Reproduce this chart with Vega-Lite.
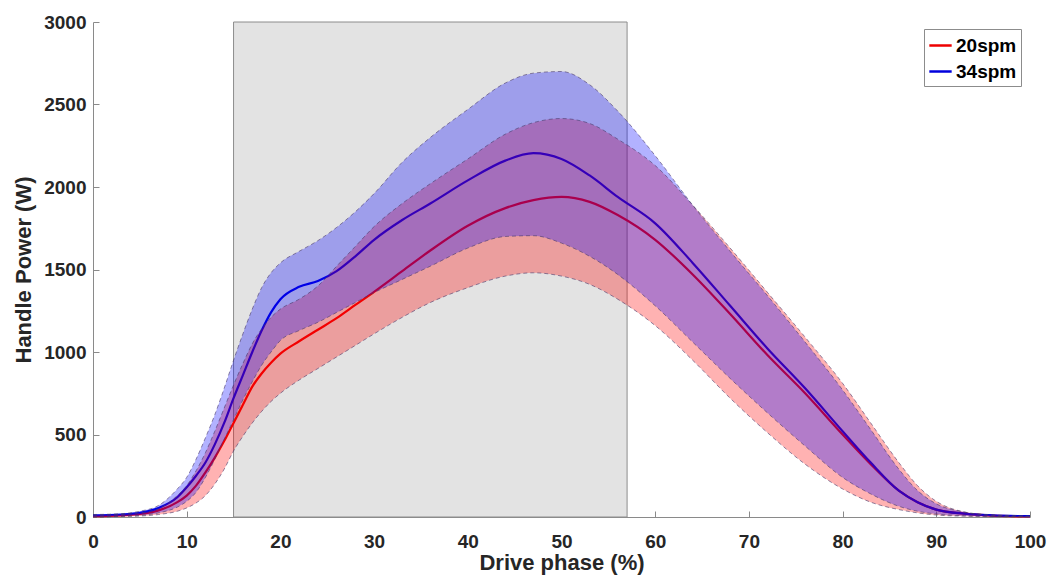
{
  "$schema": "https://vega.github.io/schema/vega-lite/v6.json",
  "width": 937,
  "height": 495,
  "autosize": "none",
  "padding": {"left": 93, "top": 22, "right": 18, "bottom": 61},
  "background": "white",
  "config": {
    "view": {"stroke": null},
    "font": "Liberation Sans",
    "axis": {
      "grid": false,
      "domainColor": "#8a8a8a",
      "tickColor": "#8a8a8a",
      "tickSize": -6,
      "labelFlush": false,
      "labelFont": "Liberation Sans",
      "labelFontWeight": "bold",
      "labelFontSize": 19,
      "labelColor": "#262626",
      "titleFont": "Liberation Sans",
      "titleFontWeight": "bold",
      "titleFontSize": 22,
      "titleColor": "#262626"
    }
  },
  "datasets": {
    "curves": [
      {"x":0,"s":"20spm","m":5,"lo":0,"hi":10},
      {"x":3,"s":"20spm","m":10,"lo":3,"hi":15},
      {"x":5,"s":"20spm","m":18,"lo":6,"hi":25},
      {"x":7,"s":"20spm","m":40,"lo":15,"hi":50},
      {"x":9,"s":"20spm","m":90,"lo":35,"hi":130},
      {"x":10,"s":"20spm","m":130,"lo":55,"hi":190},
      {"x":11,"s":"20spm","m":190,"lo":85,"hi":280},
      {"x":12,"s":"20spm","m":270,"lo":130,"hi":390},
      {"x":13,"s":"20spm","m":360,"lo":200,"hi":520},
      {"x":14,"s":"20spm","m":460,"lo":290,"hi":660},
      {"x":15,"s":"20spm","m":570,"lo":400,"hi":800},
      {"x":16,"s":"20spm","m":680,"lo":490,"hi":930},
      {"x":17,"s":"20spm","m":790,"lo":570,"hi":1050},
      {"x":18,"s":"20spm","m":870,"lo":640,"hi":1140},
      {"x":19,"s":"20spm","m":935,"lo":700,"hi":1210},
      {"x":20,"s":"20spm","m":990,"lo":750,"hi":1260},
      {"x":22,"s":"20spm","m":1065,"lo":830,"hi":1320},
      {"x":24,"s":"20spm","m":1135,"lo":900,"hi":1400},
      {"x":26,"s":"20spm","m":1205,"lo":970,"hi":1520},
      {"x":28,"s":"20spm","m":1285,"lo":1040,"hi":1640},
      {"x":30,"s":"20spm","m":1365,"lo":1110,"hi":1760},
      {"x":33,"s":"20spm","m":1490,"lo":1210,"hi":1900},
      {"x":36,"s":"20spm","m":1615,"lo":1300,"hi":2020},
      {"x":40,"s":"20spm","m":1765,"lo":1390,"hi":2170},
      {"x":44,"s":"20spm","m":1872,"lo":1460,"hi":2320},
      {"x":47,"s":"20spm","m":1920,"lo":1480,"hi":2390},
      {"x":50,"s":"20spm","m":1940,"lo":1460,"hi":2415},
      {"x":53,"s":"20spm","m":1910,"lo":1410,"hi":2385},
      {"x":56,"s":"20spm","m":1830,"lo":1320,"hi":2290},
      {"x":60,"s":"20spm","m":1680,"lo":1160,"hi":2130},
      {"x":64,"s":"20spm","m":1470,"lo":950,"hi":1890},
      {"x":68,"s":"20spm","m":1230,"lo":720,"hi":1630},
      {"x":72,"s":"20spm","m":980,"lo":510,"hi":1360},
      {"x":76,"s":"20spm","m":750,"lo":320,"hi":1090},
      {"x":80,"s":"20spm","m":500,"lo":170,"hi":810},
      {"x":83,"s":"20spm","m":320,"lo":90,"hi":570},
      {"x":86,"s":"20spm","m":160,"lo":45,"hi":330},
      {"x":88,"s":"20spm","m":90,"lo":25,"hi":190},
      {"x":90,"s":"20spm","m":45,"lo":12,"hi":95},
      {"x":93,"s":"20spm","m":20,"lo":5,"hi":30},
      {"x":96,"s":"20spm","m":8,"lo":2,"hi":10},
      {"x":100,"s":"20spm","m":3,"lo":1,"hi":5},
      {"x":0,"s":"34spm","m":10,"lo":0,"hi":15},
      {"x":3,"s":"34spm","m":15,"lo":5,"hi":20},
      {"x":5,"s":"34spm","m":25,"lo":10,"hi":35},
      {"x":7,"s":"34spm","m":55,"lo":25,"hi":70},
      {"x":9,"s":"34spm","m":120,"lo":60,"hi":170},
      {"x":10,"s":"34spm","m":180,"lo":95,"hi":240},
      {"x":11,"s":"34spm","m":250,"lo":150,"hi":350},
      {"x":12,"s":"34spm","m":330,"lo":240,"hi":480},
      {"x":13,"s":"34spm","m":440,"lo":350,"hi":620},
      {"x":14,"s":"34spm","m":570,"lo":470,"hi":780},
      {"x":15,"s":"34spm","m":720,"lo":590,"hi":950},
      {"x":16,"s":"34spm","m":860,"lo":710,"hi":1110},
      {"x":17,"s":"34spm","m":1000,"lo":820,"hi":1260},
      {"x":18,"s":"34spm","m":1130,"lo":920,"hi":1390},
      {"x":19,"s":"34spm","m":1240,"lo":1000,"hi":1480},
      {"x":20,"s":"34spm","m":1320,"lo":1070,"hi":1540},
      {"x":22,"s":"34spm","m":1395,"lo":1130,"hi":1610},
      {"x":24,"s":"34spm","m":1430,"lo":1180,"hi":1675},
      {"x":26,"s":"34spm","m":1490,"lo":1240,"hi":1755},
      {"x":28,"s":"34spm","m":1580,"lo":1300,"hi":1850},
      {"x":30,"s":"34spm","m":1680,"lo":1360,"hi":1960},
      {"x":33,"s":"34spm","m":1800,"lo":1440,"hi":2150},
      {"x":36,"s":"34spm","m":1900,"lo":1520,"hi":2300},
      {"x":40,"s":"34spm","m":2040,"lo":1630,"hi":2470},
      {"x":44,"s":"34spm","m":2160,"lo":1700,"hi":2630},
      {"x":47,"s":"34spm","m":2205,"lo":1705,"hi":2690},
      {"x":50,"s":"34spm","m":2170,"lo":1660,"hi":2700},
      {"x":53,"s":"34spm","m":2070,"lo":1580,"hi":2620},
      {"x":56,"s":"34spm","m":1940,"lo":1470,"hi":2460},
      {"x":60,"s":"34spm","m":1780,"lo":1280,"hi":2190},
      {"x":64,"s":"34spm","m":1540,"lo":1060,"hi":1890},
      {"x":68,"s":"34spm","m":1280,"lo":840,"hi":1610},
      {"x":72,"s":"34spm","m":1020,"lo":630,"hi":1340},
      {"x":76,"s":"34spm","m":780,"lo":430,"hi":1060},
      {"x":80,"s":"34spm","m":520,"lo":240,"hi":770},
      {"x":83,"s":"34spm","m":330,"lo":140,"hi":530},
      {"x":86,"s":"34spm","m":160,"lo":65,"hi":290},
      {"x":88,"s":"34spm","m":90,"lo":35,"hi":160},
      {"x":90,"s":"34spm","m":45,"lo":18,"hi":80},
      {"x":93,"s":"34spm","m":20,"lo":8,"hi":30},
      {"x":96,"s":"34spm","m":10,"lo":4,"hi":12},
      {"x":100,"s":"34spm","m":5,"lo":2,"hi":5}
    ],
    "region": [{"x1": 15, "x2": 57, "y1": 0, "y2": 3000}]
  },
  "layer": [
    {
      "data": {"name": "region"},
      "mark": {"type": "rect", "fill": "#e3e3e3", "stroke": "#8c8c8c", "strokeWidth": 1},
      "encoding": {
        "x": {"field": "x1", "type": "quantitative", "scale": {"domain": [0, 100], "nice": false}, "axis": {"values": [0,10,20,30,40,50,60,70,80,90,100], "format": "d", "title": "Drive phase (%)", "labelPadding": 21, "titlePadding": 1}},
        "x2": {"field": "x2"},
        "y": {"field": "y1", "type": "quantitative", "scale": {"domain": [0, 3000], "nice": false}, "axis": {"values": [0,500,1000,1500,2000,2500,3000], "format": "d", "title": "Handle Power (W)", "labelPadding": 13, "titlePadding": 8}},
        "y2": {"field": "y2"}
      }
    },
    {
      "data": {"name": "curves"},
      "mark": {"type": "line", "interpolate": "monotone", "strokeWidth": 2.2},
      "encoding": {
        "x": {"field": "x", "type": "quantitative"},
        "y": {"field": "m", "type": "quantitative"},
        "color": {
          "field": "s", "type": "nominal",
          "scale": {"domain": ["20spm", "34spm"], "range": ["#ee0000", "#0000dd"]},
          "legend": {
            "title": null,
            "orient": "none",
            "legendX": 831,
            "legendY": 7,
            "symbolType": "stroke",
            "symbolSize": 500,
            "symbolStrokeWidth": 2.5,
            "labelFont": "Liberation Sans",
            "labelFontWeight": "bold",
            "labelFontSize": 19,
            "labelColor": "#000000",
            "labelOffset": 3,
            "rowPadding": 3,
            "padding": 4,
            "strokeColor": "#8c8c8c",
            "fillColor": "white"
          }
        }
      }
    },
    {
      "data": {"name": "curves"},
      "transform": [{"filter": "datum.s === '20spm'"}],
      "mark": {"type": "area", "interpolate": "monotone", "fill": "#ff0000", "opacity": 0.3},
      "encoding": {
        "x": {"field": "x", "type": "quantitative"},
        "y": {"field": "lo", "type": "quantitative"},
        "y2": {"field": "hi"}
      }
    },
    {
      "data": {"name": "curves"},
      "transform": [{"filter": "datum.s === '34spm'"}],
      "mark": {"type": "area", "interpolate": "monotone", "fill": "#0000ff", "opacity": 0.3},
      "encoding": {
        "x": {"field": "x", "type": "quantitative"},
        "y": {"field": "lo", "type": "quantitative"},
        "y2": {"field": "hi"}
      }
    },
    {
      "data": {"name": "curves"},
      "mark": {"type": "line", "interpolate": "monotone", "strokeWidth": 1, "strokeDash": [4, 3], "opacity": 0.6},
      "encoding": {
        "x": {"field": "x", "type": "quantitative"},
        "y": {"field": "hi", "type": "quantitative"},
        "detail": {"field": "s", "type": "nominal"},
        "stroke": {"value": "#4a3a6a"}
      }
    },
    {
      "data": {"name": "curves"},
      "mark": {"type": "line", "interpolate": "monotone", "strokeWidth": 1, "strokeDash": [4, 3], "opacity": 0.6},
      "encoding": {
        "x": {"field": "x", "type": "quantitative"},
        "y": {"field": "lo", "type": "quantitative"},
        "detail": {"field": "s", "type": "nominal"},
        "stroke": {"value": "#4a3a6a"}
      }
    }
  ]
}
